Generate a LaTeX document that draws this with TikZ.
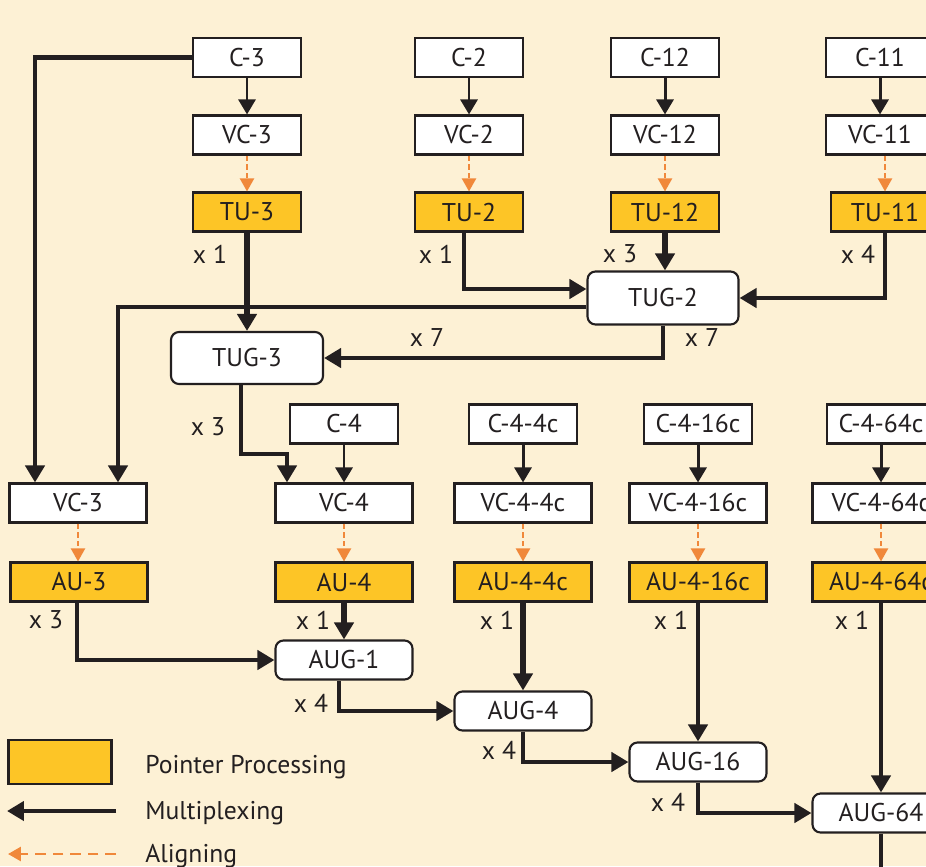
\documentclass[tikz,border=0pt]{standalone}
\usepackage{fontspec}
\setmainfont{PT Sans}
\usetikzlibrary{arrows.meta}
\definecolor{bgcream}{HTML}{FDF1D5}
\definecolor{ptryellow}{HTML}{FDC526}
\definecolor{alorange}{HTML}{F0883A}
\definecolor{linec}{HTML}{231F20}

\begin{document}
\begin{tikzpicture}[x=0.02cm, y=-0.02cm, font=\fontsize{14.6pt}{17pt}\selectfont,
    plainbox/.style={draw=linec, line width=1.2pt, fill=white, text=linec,
        minimum width=2.16cm, minimum height=0.78cm, inner sep=0pt},
    widebox/.style={plainbox, minimum width=2.74cm},
    ptrbox/.style={fill=ptryellow},
    grpbox/.style={widebox, rounded corners=0.16cm},
    mapto/.style={draw=linec, line width=1.7pt, -{Triangle[width=0.34cm,length=0.3cm]}},
    muxarr/.style={draw=linec, line width=2.4pt, -{Triangle[width=0.38cm,length=0.34cm]}},
    muxheavy/.style={muxarr, line width=3.2pt},
    alignarr/.style={draw=alorange, line width=1.2pt, dash pattern=on 3pt off 2pt,
        -{Triangle[width=0.28cm,length=0.26cm]}},
    count/.style={text=linec, inner sep=0pt}]
    \fill[bgcream] (0,0) rectangle (926,866);
    \useasboundingbox (0,0) rectangle (926,866);
    % upper part: C -> VC -> TU -> TUG
    \node[plainbox] (c3) at (247,57.5) {C-3};
    \node[plainbox] (vc3) at (247,135) {VC-3};
    \node[plainbox, ptrbox] (tu3) at (247,212) {TU-3};
    \node[plainbox] (c2) at (469,57.5) {C-2};
    \node[plainbox] (vc2) at (469,135) {VC-2};
    \node[plainbox, ptrbox] (tu2) at (469,212) {TU-2};
    \node[plainbox] (c12) at (665,57.5) {C-12};
    \node[plainbox] (vc12) at (665,135) {VC-12};
    \node[plainbox, ptrbox] (tu12) at (665,212) {TU-12};
    \node[plainbox] (c11) at (880,57.5) {C-11};
    \node[plainbox] (vc11) at (880,135) {VC-11};
    \node[plainbox, ptrbox] (tu11) at (885,212) {TU-11};
    \node[grpbox, minimum width=3.02cm, minimum height=1.06cm] (tug2) at (663,298) {TUG-2};
    \node[grpbox, minimum width=3.04cm, minimum height=1.04cm] (tug3) at (247,358) {TUG-3};
    % lower part: C -> VC -> AU -> AUG
    \node[plainbox] (c4) at (344,424) {C-4};
    \node[plainbox] (c44) at (523,424) {C-4-4c};
    \node[plainbox] (c416) at (698,424) {C-4-16c};
    \node[plainbox] (c464) at (881,424) {C-4-64c};
    \node[widebox] (vc3b) at (78,503) {VC-3};
    \node[widebox] (vc4) at (344,503) {VC-4};
    \node[widebox] (vc44) at (523,503) {VC-4-4c};
    \node[widebox] (vc416) at (698,503) {VC-4-16c};
    \node[widebox] (vc464) at (881,503) {VC-4-64c};
    \node[widebox, ptrbox] (au3) at (79,582) {AU-3};
    \node[widebox, ptrbox] (au4) at (344,582) {AU-4};
    \node[widebox, ptrbox] (au44) at (523,582) {AU-4-4c};
    \node[widebox, ptrbox] (au416) at (698,582) {AU-4-16c};
    \node[widebox, ptrbox] (au464) at (881,582) {AU-4-64c};
    \node[grpbox] (aug1) at (344,660) {AUG-1};
    \node[grpbox] (aug4) at (523,711) {AUG-4};
    \node[grpbox] (aug16) at (698,762) {AUG-16};
    \node[grpbox] (aug64) at (881,813) {AUG-64};
    \coordinate (aug64out) at (881,900);
    % mapping and aligning
    \draw[mapto] (c3) -- (vc3);
    \draw[mapto] (c2) -- (vc2);
    \draw[mapto] (c12) -- (vc12);
    \draw[mapto] (c11) -- (vc11);
    \draw[mapto] (c4) -- (vc4);
    \draw[mapto] (c44) -- (vc44);
    \draw[mapto] (c416) -- (vc416);
    \draw[mapto] (c464) -- (vc464);
    \draw[alignarr] (vc3) -- (tu3);
    \draw[alignarr] (vc2) -- (tu2);
    \draw[alignarr] (vc12) -- (tu12);
    \draw[alignarr] (vc11.south -| tu11.north) -- (tu11.north);
    \draw[alignarr] (vc3b) -- (vc3b |- au3.north);
    \draw[alignarr] (vc4) -- (au4);
    \draw[alignarr] (vc44) -- (au44);
    \draw[alignarr] (vc416) -- (au416);
    \draw[alignarr] (vc464) -- (au464);
    % multiplexing
    \draw[muxarr] (c3.west) -| ([xshift=-0.86cm]vc3b.north);
    \draw[muxarr] ([yshift=-0.18cm]tug2.west) -| ([xshift=0.8cm]vc3b.north);
    \draw[muxheavy] (tu3) -- (tug3);
    \draw[muxarr] ([xshift=-0.1cm]tu2.south) |- ([yshift=0.18cm]tug2.west);
    \draw[muxheavy] (tu12) -- (tu12 |- tug2.north);
    \draw[muxarr] (tu11.south) |- (tug2.east);
    \draw[muxarr] (tug2.south) |- (tug3.east);
    \draw[muxarr] ([xshift=-0.12cm]tug3.south) -- ++(0,69) -| ([xshift=-1.14cm]vc4.north);
    \draw[muxarr] ([xshift=-0.04cm]au3.south) |- (aug1.west);
    \draw[muxheavy] (au4) -- (aug1);
    \draw[muxarr] ([xshift=-0.1cm]aug1.south) |- (aug4.west);
    \draw[muxheavy] (au44) -- (aug4);
    \draw[muxarr] (aug4.south) |- (aug16.west);
    \draw[muxarr] (au416) -- (aug16);
    \draw[muxarr] (aug16.south) |- (aug64.west);
    \draw[muxarr] (au464) -- (aug64);
    \draw[muxarr] (aug64) -- (aug64out);
    % counts
    \node[count] (n1) at (210,254) {x 1};
    \node[count] (n2) at (436,254) {x 1};
    \node[count] (n3) at (620,254) {x 3};
    \node[count] (n4) at (858,254) {x 4};
    \node[count] (n5) at (427,338) {x 7};
    \node[count] (n6) at (702,338) {x 7};
    \node[count] (n7) at (208,427) {x 3};
    \node[count] (n8) at (46,620) {x 3};
    \node[count] (n9) at (313,620) {x 1};
    \node[count] (n10) at (311,703) {x 4};
    \node[count] (n11) at (497,620) {x 1};
    \node[count] (n12) at (671,620) {x 1};
    \node[count] (n13) at (852,620) {x 1};
    \node[count] (n14) at (499,750) {x 4};
    \node[count] (n15) at (668,802) {x 4};
    % legend
    \node[plainbox, ptrbox, minimum width=2.06cm, minimum height=0.88cm] (legpp) at (60,762) {};
    \node[count, anchor=base west] (legpptext) at (145,773) {Pointer Processing};
    \coordinate (legmuxa) at (116,811);
    \coordinate (legmuxb) at (7,811);
    \draw[muxarr] (legmuxa) -- (legmuxb);
    \node[count, anchor=base west] (legmuxtext) at (145,819) {Multiplexing};
    \coordinate (legala) at (116,854);
    \coordinate (legalb) at (8,854);
    \draw[alignarr, line width=1.6pt, dash pattern=on 6pt off 4pt] (legala) -- (legalb);
    \node[count, anchor=base west] (legaltext) at (145,862) {Aligning};
\end{tikzpicture}
\end{document}
